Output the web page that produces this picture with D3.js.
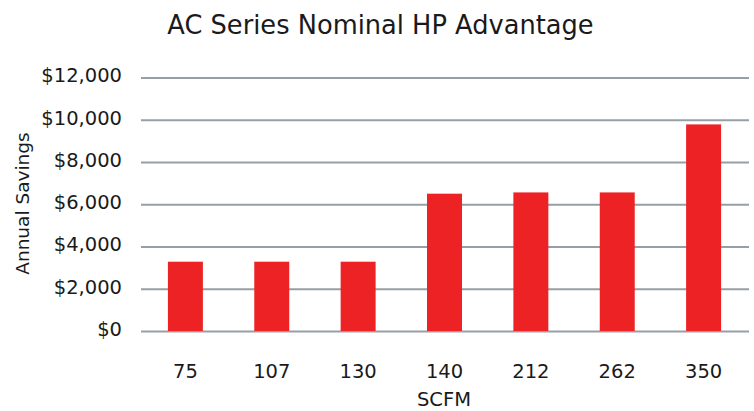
<!DOCTYPE html>
<html>
<head>
<meta charset="utf-8">
<script src="https://cdn.jsdelivr.net/npm/d3@7"></script>
<style>
  html, body { margin: 0; padding: 0; background: #fff; }
  svg { display: block; }
  text { font-family: "DejaVu Sans", sans-serif; fill: #1a1a1a; }
</style>
</head>
<body>
<svg id="chart" width="754" height="411"></svg>
<script>
const categories = ["75", "107", "130", "140", "212", "262", "350"];
const savings = [3280, 3280, 3280, 6500, 6560, 6560, 9780];
const yTicks = [0, 2000, 4000, 6000, 8000, 10000, 12000];
const title = "AC Series Nominal HP Advantage";
const xTitle = "SCFM";
const yTitle = "Annual Savings";

const svg = d3.select("#chart");
const mLeft = 142, mRight = 747, mTop = 77.5, mBottom = 331;

const x = d3.scaleBand().domain(categories).range([mLeft, mRight]).paddingInner(0.595).paddingOuter(0.3);
const y = d3.scaleLinear().domain([0, 12000]).range([mBottom, mTop]);

// gridlines + y tick labels
const yAxis = d3.axisLeft(y).tickValues(yTicks).tickSize(-(749 - 141))
  .tickFormat(d => "$" + d3.format(",")(d)).tickPadding(19);
const gy = svg.append("g").attr("transform", `translate(141,0)`).call(yAxis);
gy.select(".domain").remove();
gy.selectAll(".tick line").attr("stroke", "#979ea5").attr("stroke-width", 2.2);
gy.selectAll(".tick text").attr("font-size", 19.5).attr("fill", "#1a1a1a")
  .attr("font-family", "DejaVu Sans, sans-serif").attr("dy", "0.22em");

// bars
svg.append("g").selectAll("rect").data(categories).join("rect")
  .attr("x", d => x(d))
  .attr("width", x.bandwidth())
  .attr("y", (d, i) => y(savings[i]))
  .attr("height", (d, i) => y(0) - y(savings[i]))
  .attr("fill", "#ed2224");

// x axis labels
const xAxis = d3.axisBottom(x).tickSize(0).tickPadding(33);
const gx = svg.append("g").attr("transform", `translate(0,${mBottom})`).call(xAxis);
gx.select(".domain").remove();
gx.selectAll(".tick text").attr("font-size", 19.5).attr("fill", "#1a1a1a")
  .attr("font-family", "DejaVu Sans, sans-serif");

// titles
svg.append("text").attr("x", 380.5).attr("y", 34).attr("text-anchor", "middle")
  .attr("font-size", 25.7).text(title);
svg.append("text").attr("x", 444).attr("y", 406).attr("text-anchor", "middle")
  .attr("font-size", 19.5).text(xTitle);
svg.append("text").attr("transform", "translate(29,203.5) rotate(-90)").attr("text-anchor", "middle")
  .attr("font-size", 18.5).text(yTitle);
</script>
</body>
</html>
